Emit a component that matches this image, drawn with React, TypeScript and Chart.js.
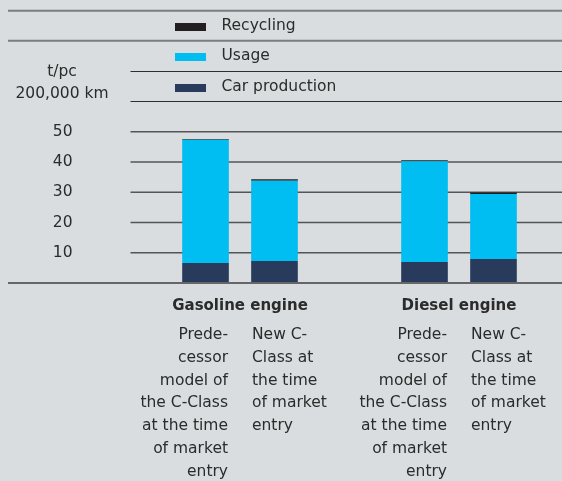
import React, { useEffect, useRef } from "react";
import { Chart, registerables } from "chart.js";

Chart.register(...registerables);

// ---- data ----
const engines = ["Gasoline engine", "Diesel engine"];
const productionPredecessor = [6.6, 6.9];
const usagePredecessor = [40.7, 33.3];
const recyclingPredecessor = [0.3, 0.4];
const productionNew = [7.3, 7.9];
const usageNew = [26.5, 21.5];
const recyclingNew = [0.5, 0.5];
const predecessorLabel = ["Prede-", "cessor", "model of", "the C-Class", "at the time", "of market", "entry"];
const newModelLabel = ["New C-", "Class at", "the time", "of market", "entry"];
const unitLabel = ["t/pc", "200,000 km"];
const yTicks = [10, 20, 30, 40, 50];
const legendOrder = ["Recycling", "Usage", "Car production"];

// ---- styles ----
const BG = "#d9dddf";
const TEXT = "#2b2b2b";
const FONT = "'DejaVu Sans', sans-serif";
const COLORS: Record<string, string> = {
  "Car production": "#293b5c",
  Usage: "#00bdf2",
  Recycling: "#231f20",
};
const CANVAS_W = 569;
const CANVAS_H = 481;

export default function App() {
  const ref = useRef<HTMLCanvasElement | null>(null);

  useEffect(() => {
    document.body.style.margin = "0";
    document.body.style.background = BG;
    document.body.style.overflow = "hidden";
    const canvas = ref.current!;

    const mk = (label: string, data: number[], stack: string) => ({
      label,
      data,
      stack,
      backgroundColor: COLORS[label],
      borderWidth: 0,
      barPercentage: 0.676,
      categoryPercentage: 0.63,
    });

    const decor = {
      id: "decor",
      beforeDraw(chart: any) {
        const { ctx, width } = chart;
        const y = chart.scales.y;
        ctx.save();
        ctx.fillStyle = BG;
        ctx.fillRect(0, 0, width, chart.height);

        // header lines
        ctx.strokeStyle = "#7d7d7d";
        ctx.lineWidth = 2;
        [10.7, 40.7].forEach((ly) => {
          ctx.beginPath();
          ctx.moveTo(8, ly);
          ctx.lineTo(width, ly);
          ctx.stroke();
        });
        ctx.strokeStyle = "#2e2e2e";
        ctx.lineWidth = 1;
        [71.5, 101.5].forEach((ly) => {
          ctx.beginPath();
          ctx.moveTo(chart.chartArea.left, ly);
          ctx.lineTo(width, ly);
          ctx.stroke();
        });

        // legend
        const rowY = [26, 56, 87];
        ctx.font = `15.5px ${FONT}`;
        ctx.textBaseline = "middle";
        ctx.textAlign = "left";
        legendOrder.forEach((name, i) => {
          ctx.fillStyle = COLORS[name];
          ctx.fillRect(175, rowY[i] - 3, 31, 8);
          ctx.fillStyle = TEXT;
          ctx.fillText(name, 221.5, rowY[i]);
        });

        // unit label
        ctx.textAlign = "center";
        ctx.fillText(unitLabel[0], 62, 72);
        ctx.fillText(unitLabel[1], 62, 93.5);

        // grid lines
        ctx.strokeStyle = "#555";
        ctx.lineWidth = 1.5;
        yTicks.forEach((t) => {
          const py = y.getPixelForValue(t);
          ctx.beginPath();
          ctx.moveTo(chart.chartArea.left, py);
          ctx.lineTo(width, py);
          ctx.stroke();
        });
        ctx.restore();
      },
      afterDatasetsDraw(chart: any) {
        const { ctx, width } = chart;
        const py = chart.scales.y.getPixelForValue(0);
        ctx.save();
        ctx.strokeStyle = "#666";
        ctx.lineWidth = 2;
        ctx.beginPath();
        ctx.moveTo(8, py);
        ctx.lineTo(width, py);
        ctx.stroke();
        ctx.restore();
      },
      afterDraw(chart: any) {
        const { ctx } = chart;
        const x = chart.scales.x;
        ctx.save();
        ctx.fillStyle = TEXT;
        ctx.textBaseline = "middle";
        engines.forEach((name, i) => {
          const cx = x.getPixelForValue(i);
          ctx.font = `bold 15px ${FONT}`;
          ctx.textAlign = "center";
          ctx.fillText(name, cx, 306);
          ctx.font = `15.5px ${FONT}`;
          ctx.textAlign = "right";
          predecessorLabel.forEach((l, k) => ctx.fillText(l, cx - 12, 335 + k * 22.8));
          ctx.textAlign = "left";
          newModelLabel.forEach((l, k) => ctx.fillText(l, cx + 12, 335 + k * 22.8));
        });
        ctx.restore();
      },
    };

    const chart = new Chart(canvas, {
      type: "bar",
      data: {
        labels: engines,
        datasets: [
          mk("Car production", productionPredecessor, "pred"),
          mk("Usage", usagePredecessor, "pred"),
          mk("Recycling", recyclingPredecessor, "pred"),
          mk("Car production", productionNew, "new"),
          mk("Usage", usageNew, "new"),
          mk("Recycling", recyclingNew, "new"),
        ],
      },
      options: {
        responsive: false,
        animation: false,
        layout: { padding: { left: 0, right: 0.5, top: 131.7, bottom: 198 } },
        plugins: { legend: { display: false }, tooltip: { enabled: false } },
        scales: {
          x: { display: false, stacked: true },
          y: {
            stacked: true,
            min: 0,
            max: 50,
            grid: { display: false, drawTicks: false },
            border: { display: false },
            ticks: {
              stepSize: 10,
              padding: 58,
              color: TEXT,
              font: { family: "'DejaVu Sans', sans-serif", size: 15.5 },
              callback: (v: any) => (v === 0 ? "" : String(v)),
            },
            afterFit: (s: any) => {
              s.width = 130.5;
            },
          },
        },
      },
      plugins: [decor],
    });
    return () => chart.destroy();
  }, []);

  return (
    <div style={{ width: 562, height: 481, overflow: "hidden", background: BG }}>
      <canvas ref={ref} width={CANVAS_W} height={CANVAS_H} style={{ display: "block" }} />
    </div>
  );
}
